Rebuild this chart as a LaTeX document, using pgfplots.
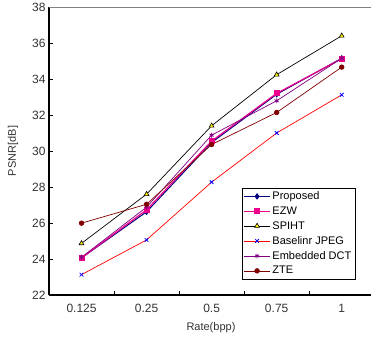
\documentclass[border=0pt]{standalone}
\usepackage{fontspec}
\setmainfont{Liberation Sans}
\usepackage{pgfplots}
\pgfplotsset{compat=1.18}
\definecolor{navyc}{RGB}{0,0,128}
\definecolor{purp}{RGB}{128,0,128}
\definecolor{dred}{RGB}{128,0,0}
\begin{document}
\begin{tikzpicture}
\begin{axis}[
  name=ax,
  scale only axis,
  width=322pt, height=288pt,
  xmin=-0.5, xmax=4.45,
  ymin=22, ymax=38,
  ytick={22,24,...,38},
  xtick={0,1,2,3,4},
  xticklabels={0.125,0.25,0.5,0.75,1},
  minor xtick={0.5,1.5,2.5,3.5},
  major x tick style={draw=none},
  minor tick length=4pt,
  major tick length=4pt,
  tick align=inside,
  axis x line*=bottom,
  axis y line*=left,
  axis line style={line width=1.4pt, black, -},
  tick style={line width=0.8pt, black},
  /pgf/number format/assume math mode=true,
  ticklabel style={font=\fontsize{12}{14}\selectfont, text=black!80},
  xticklabel style={yshift=-6pt},
  yticklabel style={/pgf/number format/fixed},
  xlabel={Rate(bpp)},
  ylabel={PSNR[dB]},
  label style={font=\fontsize{11}{13}\selectfont, text=black!80},
  xlabel style={at={(axis description cs:0.503,0)}, anchor=center, yshift=-33pt},
  ylabel style={at={(axis description cs:0,0.5)}, anchor=center, rotate=0, yshift=36pt},
  legend style={at={(0.599,0.372)}, anchor=north west, draw=black, line width=0.6pt,
    font=\fontsize{11}{12}\selectfont, inner sep=1.5pt, row sep=1.6pt,
    cells={anchor=west}},
  legend image code/.code={\draw[mark repeat=2,mark phase=2] plot coordinates {(0cm,0cm) (0.45cm,0cm) (0.9cm,0cm)};},
  clip=false,
]
\addplot[color=navyc, line width=1pt, mark=diamond*, mark size=2.5pt, mark options={fill=navyc}]
  coordinates {(0,24.06) (1,26.62) (2,30.47) (3,33.15) (4,35.15)};
\addlegendentry{Proposed}
\addplot[color=magenta, line width=1.2pt, mark=square*, mark size=2.4pt, mark options={fill=magenta}]
  coordinates {(0,24.06) (1,26.73) (2,30.55) (3,33.2) (4,35.13)};
\addlegendentry{EZW}
\addplot[color=black, line width=0.7pt, mark=triangle*, mark size=2.8pt, mark options={fill=yellow, draw=black, line width=0.6pt}]
  coordinates {(0,24.87) (1,27.6) (2,31.4) (3,34.24) (4,36.4)};
\addlegendentry{SPIHT}
\addplot[color=red, line width=0.7pt, mark=x, mark size=2.6pt, mark options={draw=blue, line width=0.8pt}]
  coordinates {(0,23.13) (1,25.06) (2,28.27) (3,31.0) (4,33.12)};
\addlegendentry{Baselinr JPEG}
\addplot[color=purp, line width=0.7pt, mark=asterisk, mark size=2.4pt, mark options={draw=purp, line width=0.8pt}]
  coordinates {(0,24.1) (1,26.88) (2,30.88) (3,32.79) (4,35.15)};
\addlegendentry{Embedded DCT}
\addplot[color=dred, line width=0.7pt, mark=*, mark size=2.3pt, mark options={fill=dred}]
  coordinates {(0,25.99) (1,27.04) (2,30.36) (3,32.14) (4,34.66)};
\addlegendentry{ZTE}
\draw[gray, line width=0.6pt] (rel axis cs:0,1) -- (rel axis cs:1,1);
\end{axis}
\pgfresetboundingbox
\path[use as bounding box] ([xshift=-49pt,yshift=-46pt]ax.south west) rectangle ([yshift=7pt]ax.north east);
\end{tikzpicture}
\end{document}
